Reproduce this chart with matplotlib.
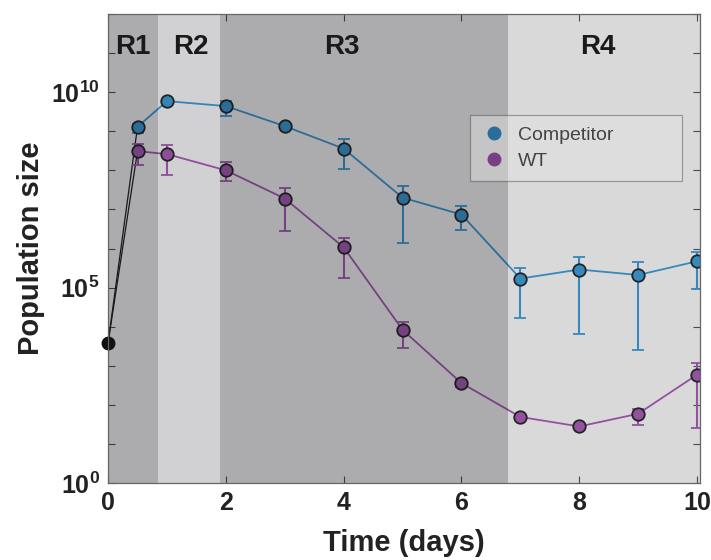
import numpy as np
import matplotlib
matplotlib.use('Agg')
import matplotlib.pyplot as plt
from matplotlib.lines import Line2D

plt.rcParams['font.family'] = ['Liberation Sans', 'DejaVu Sans']
plt.rcParams['mathtext.fontset'] = 'custom'
plt.rcParams['mathtext.rm'] = 'Liberation Sans:bold'
plt.rcParams['mathtext.bf'] = 'Liberation Sans:bold'

# Data
t0 = 0.0
n0 = 3.9e3

days = [0.5, 1, 2, 3, 4, 5, 6, 7, 8, 9, 10]

comp = [1.3e9, 5.9e9, 4.4e9, 1.35e9, 3.6e8, 2.0e7, 7.4e6, 1.7e5, 2.9e5, 2.1e5, 4.7e5]
comp_hi = [1.5e9, 6.3e9, 5.9e9, 1.4e9, 6.2e8, 3.9e7, 1.2e7, 3.2e5, 5.9e5, 4.4e5, 8.3e5]
comp_lo = [9.0e8, 5.2e9, 2.4e9, 1.25e9, 1.1e8, 1.4e6, 2.9e6, 1.7e4, 6.6e3, 2.6e3, 9.3e4]

wt = [3.1e8, 2.6e8, 1.0e8, 1.9e7, 1.07e6, 8.3e3, 3.6e2, 49, 28, 59, 590]
wt_hi = [4.7e8, 4.4e8, 1.6e8, 3.6e7, 1.9e6, 1.35e4, 4.2e2, 52, 29, 79, 1.2e3]
wt_lo = [1.4e8, 7.4e7, 5.2e7, 2.8e6, 1.8e5, 2.9e3, 2.8e2, 46, 26, 31, 26]

regions = ['R1', 'R2', 'R3', 'R4']
region_edges = [0.0, 0.85, 1.9, 6.79, 10.05]
region_label_x = [0.42, 1.41, 3.97, 8.32]

# Styles
blue = '#3fa0dc'
purple = '#ad5fba'
edge = '#2a2a2a'
text_color = '#222222'

fig = plt.figure(figsize=(7.11, 5.6), dpi=100, facecolor='white')
ax = fig.add_axes([0.152, 0.1375, 0.8325, 0.8375])

# black lines from inoculum to first points
ax.plot([t0, days[0]], [n0, comp[0]], color='#222222', lw=0.9, zorder=2)
ax.plot([t0, days[0]], [n0, wt[0]], color='#222222', lw=0.9, zorder=2)

def draw_series(y, lo, hi, color):
    y = np.array(y)
    err = [y - np.array(lo), np.array(hi) - y]
    ax.errorbar(days, y, yerr=err, color=color, lw=1.3, elinewidth=1.5,
                capsize=4, capthick=1.5, marker='o', markersize=9,
                markerfacecolor=color, markeredgecolor=edge, markeredgewidth=1.3,
                zorder=2)

draw_series(comp, comp_lo, comp_hi, blue)
draw_series(wt, wt_lo, wt_hi, purple)

ax.plot([t0], [n0], 'o', color='#111111', markersize=9, clip_on=False, zorder=6)

# shaded regions drawn over the data (translucent)
shade_alpha = [0.33, 0.18, 0.33, 0.15]
for i, name in enumerate(regions):
    ax.axvspan(region_edges[i], region_edges[i + 1], color='#05050c',
               alpha=shade_alpha[i], lw=0, zorder=3)
    ax.text(region_label_x[i], 0.93, name, transform=ax.get_xaxis_transform(),
            ha='center', va='center', fontsize=20, fontweight='bold',
            color='#1a1a1a', zorder=5)

ax.set_yscale('log')
ax.set_ylim(1, 1e12)
ax.set_xlim(0, 10.05)

ax.set_xticks([0, 2, 4, 6, 8, 10])
ax.set_xticklabels(['0', '2', '4', '6', '8', '10'])
ax.set_yticks([10.0 ** k for k in range(0, 13)])
ax.set_yticklabels([r'$\mathbf{10^{%d}}$' % k if k in (0, 5, 10) else '' for k in range(0, 13)])
ax.minorticks_off()
ax.tick_params(direction='in', length=5, width=0.8, color='#555555',
               top=True, right=True, labelsize=18, labelcolor=text_color, pad=6)
for lab in ax.get_xticklabels():
    lab.set_fontweight('bold')
for s in ax.spines.values():
    s.set_color('#666666')
    s.set_linewidth(0.9)
    s.set_zorder(6)

ax.set_xlabel('Time (days)', fontsize=21, fontweight='bold', color=text_color, labelpad=10)
ax.set_ylabel('Population size', fontsize=21, fontweight='bold', color=text_color, labelpad=4)

handles = [Line2D([], [], ls='none', marker='o', markersize=9, color='#2a6c9c'),
           Line2D([], [], ls='none', marker='o', markersize=9, color='#7a3e86')]
leg = ax.legend(handles, ['Competitor', 'WT'], loc='upper left',
                bbox_to_anchor=(0.611, 0.635, 0.359, 0.15), mode='expand',
                fontsize=14, frameon=True, fancybox=False, borderaxespad=0,
                handlelength=1.3, handletextpad=0.6, labelspacing=0.4, borderpad=0.6)
leg.get_frame().set_facecolor('#e4e4e4')
leg.get_frame().set_alpha(0.45)
leg.get_frame().set_edgecolor('#444444')
leg.get_frame().set_linewidth(0.9)
leg.set_zorder(7)
for txt in leg.get_texts():
    txt.set_color('#444444')

fig.savefig('out.png', dpi=100)
